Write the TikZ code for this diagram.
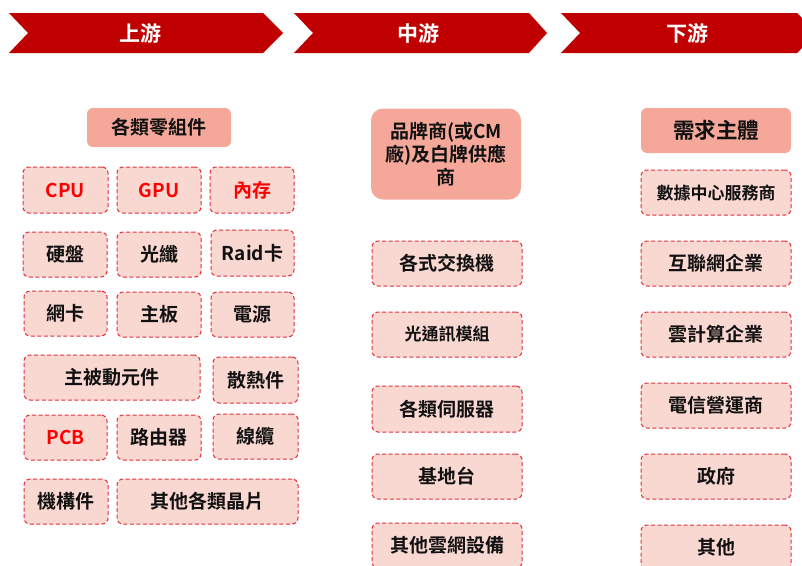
\documentclass[tikz,border=0pt]{standalone}
\usepackage{fontspec}
\setmainfont{Noto Sans CJK TC}[BoldFont={Noto Sans CJK TC Bold}]
\definecolor{hdr}{HTML}{C00000}
\definecolor{salmon}{HTML}{F5A89A}
\definecolor{pinkfill}{HTML}{FAD8D2}
\definecolor{dashred}{HTML}{E0303A}
\definecolor{txtred}{HTML}{FF0000}
\definecolor{txt}{HTML}{111111}
\tikzset{
  hdrtext/.style={text=white,font=\fontsize{21}{23}\selectfont\bfseries},
  mainbox/.style={fill=salmon,rounded corners=6pt,inner sep=0pt,align=center,text=txt,font=\fontsize{19}{23}\selectfont\bfseries},
  itembox/.style={fill=pinkfill,draw=dashred,line width=1pt,dash pattern=on 4pt off 2.5pt,rounded corners=6pt,inner sep=0pt,align=center,text=txt,font=\fontsize{19}{22}\selectfont\bfseries},
  smalltext/.style={font=\fontsize{17}{20}\selectfont\bfseries},
  redtext/.style={text=txtred},
}
\begin{document}
\begin{tikzpicture}[x=1pt,y=-1pt]
\useasboundingbox (0,0) rectangle (802,565);
\clip (0,0) rectangle (802,565);
% header chevrons
\fill[hdr] (9,13) -- (263,13) -- (283,33) -- (263,53) -- (9,53) -- (28,33) -- cycle;
\fill[hdr] (294,13) -- (529,13) -- (547,33) -- (529,53) -- (294,53) -- (313,33) -- cycle;
\fill[hdr] (561,13) -- (797,13) -- (817,33) -- (797,53) -- (561,53) -- (580,33) -- cycle;
\node[hdrtext] (h1) at (140,33) {上游};
\node[hdrtext] (h2) at (418,33) {中游};
\node[hdrtext] (h3) at (687,33) {下游};
% left column
\node[mainbox,minimum width=144pt,minimum height=39pt] (comp) at (159,127.5) {各類零組件};
\node[itembox,redtext,minimum width=85pt,minimum height=46pt] (cpu) at (65.5,190) {CPU};
\node[itembox,redtext,minimum width=84pt,minimum height=46pt] (gpu) at (159,190) {GPU};
\node[itembox,redtext,minimum width=84pt,minimum height=46pt] (mem) at (252,190) {內存};
\node[itembox,minimum width=84pt,minimum height=45pt] (hdd) at (65,254.5) {硬盤};
\node[itembox,minimum width=84pt,minimum height=45pt] (fiber) at (159,254.5) {光纖};
\node[itembox,minimum width=83pt,minimum height=46pt] (raid) at (252.5,253) {Raid卡};
\node[itembox,minimum width=83pt,minimum height=45pt] (nic) at (65.5,313.5) {網卡};
\node[itembox,minimum width=84pt,minimum height=45pt] (mb) at (159,314.5) {主板};
\node[itembox,minimum width=83pt,minimum height=45pt] (psu) at (252.5,314.5) {電源};
\node[itembox,minimum width=176pt,minimum height=45pt] (passive) at (112,377.5) {主被動元件};
\node[itembox,minimum width=85pt,minimum height=46pt] (heat) at (255.5,380) {散熱件};
\node[itembox,redtext,minimum width=83pt,minimum height=45pt] (pcb) at (65.5,437.5) {PCB};
\node[itembox,minimum width=84pt,minimum height=45pt] (router) at (159,437.5) {路由器};
\node[itembox,minimum width=85pt,minimum height=45pt] (cable) at (255.5,436.5) {線纜};
\node[itembox,minimum width=84pt,minimum height=45pt] (mech) at (66,501.5) {機構件};
\node[itembox,minimum width=181pt,minimum height=45pt] (chips) at (207.5,501.5) {其他各類晶片};
% middle column
\node[mainbox,rounded corners=12pt,minimum width=150pt,minimum height=91pt,text width=146pt,font=\fontsize{19}{23}\selectfont\bfseries] (brand) at (446,154) {品牌商(或CM\\廠)及白牌供應\\商};
\node[itembox,minimum width=150pt,minimum height=45pt] (switch) at (447,263.5) {各式交換機};
\node[itembox,smalltext,minimum width=150pt,minimum height=45pt] (optic) at (447,334.5) {光通訊模組};
\node[itembox,minimum width=150pt,minimum height=46pt] (server) at (447,409) {各類伺服器};
\node[itembox,minimum width=150pt,minimum height=45pt] (bs) at (447,476.5) {基地台};
\node[itembox,minimum width=150pt,minimum height=45pt] (cloudeq) at (447,545.5) {其他雲網設備};
% right column
\node[mainbox,minimum width=150pt,minimum height=45pt,font=\fontsize{21.5}{24}\selectfont\bfseries] (demand) at (716,130.5) {需求主體};
\node[itembox,smalltext,minimum width=150pt,minimum height=45pt] (dc) at (716,192.5) {數據中心服務商};
\node[itembox,minimum width=150pt,minimum height=45pt] (inet) at (716,263.5) {互聯網企業};
\node[itembox,minimum width=150pt,minimum height=45pt] (cloud) at (716,334.5) {雲計算企業};
\node[itembox,minimum width=150pt,minimum height=45pt] (telco) at (716,405.5) {電信營運商};
\node[itembox,minimum width=150pt,minimum height=45pt] (gov) at (716,476.5) {政府};
\node[itembox,minimum width=150pt,minimum height=45pt] (other) at (716,547.5) {其他};
\end{tikzpicture}
\end{document}
